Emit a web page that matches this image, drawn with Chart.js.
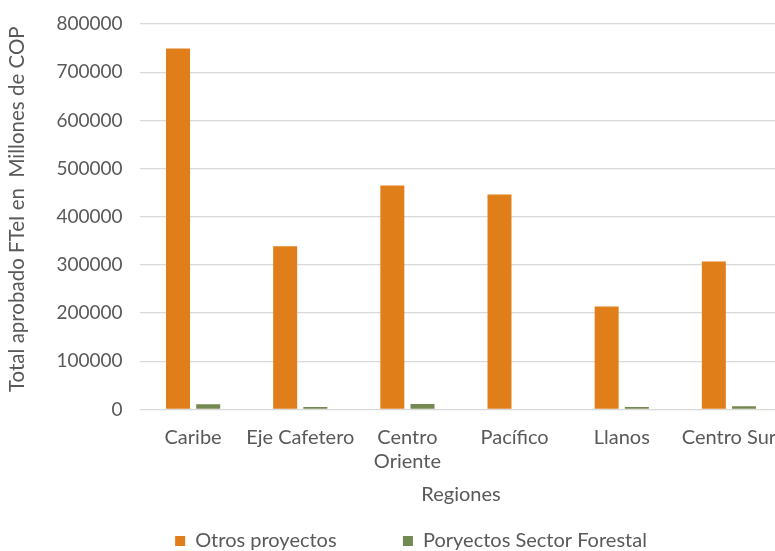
<!DOCTYPE html>
<html>
<head>
<meta charset="utf-8">
<script src="https://cdn.jsdelivr.net/npm/chart.js@4/dist/chart.umd.min.js"></script>
<style>
  html, body { margin: 0; padding: 0; background: #ffffff; overflow: hidden; }
  #wrap { width: 850px; height: 551px; }
</style>
</head>
<body>
<div id="wrap"><canvas id="chart" width="850" height="551"></canvas></div>
<script>
// Regions and approved totals (millions of COP)
const categories = ['Caribe', 'Eje Cafetero', ['Centro', 'Oriente'], 'Pacífico', 'Llanos', 'Centro Sur'];
const otrosProyectos = [749000, 339000, 465000, 446000, 214000, 307000];
const proyectosForestal = [11000, 5000, 11500, 1500, 5000, 7000];
const seriesNames = ['Otros proyectos', 'Poryectos Sector Forestal'];
const yTicks = [0, 100000, 200000, 300000, 400000, 500000, 600000, 700000, 800000];

const textColor = '#595959';
const fontFamily = 'Lato, "Open Sans", sans-serif';
const fontSize = 20;

// Extra spacing after each legend entry (trailing blanks widen the item)
const legendGap = '\u00A0'.repeat(11);

new Chart(document.getElementById('chart'), {
  type: 'bar',
  data: {
    labels: categories,
    datasets: [
      { label: seriesNames[0], data: otrosProyectos, backgroundColor: '#E07E1A', borderWidth: 0 },
      { label: seriesNames[1], data: proyectosForestal, backgroundColor: '#748952', borderWidth: 0 }
    ]
  },
  options: {
    responsive: false,
    animation: false,
    categoryPercentage: 0.563,
    barPercentage: 0.795,
    layout: { padding: { top: 24, right: 67.5, bottom: -10, left: 39.5 } },
    plugins: {
      legend: {
        position: 'bottom',
        labels: {
          boxWidth: 10,
          boxHeight: 10,
          padding: 10,
          color: textColor,
          font: { family: fontFamily, size: fontSize },
          generateLabels: (chart) => {
            const items = Chart.defaults.plugins.legend.labels.generateLabels(chart);
            items.forEach((it, i) => { if (i < items.length - 1) it.text = it.text + legendGap; });
            return items;
          }
        }
      },
      tooltip: { enabled: false }
    },
    scales: {
      x: {
        grid: { display: false, drawTicks: false },
        border: { display: false },
        ticks: {
          color: textColor,
          font: { family: fontFamily, size: fontSize },
          padding: 16.5,
          maxRotation: 0,
          autoSkip: false
        },
        title: {
          display: true,
          text: 'Regiones',
          color: textColor,
          font: { family: fontFamily, size: fontSize },
          padding: { top: -7.5, bottom: 14 }
        }
      },
      y: {
        min: 0,
        max: 800000,
        afterBuildTicks: (scale) => { scale.ticks = yTicks.map(v => ({ value: v })); },
        afterFit: (scale) => {
          scale.width = 100;
          scale.paddingTop = 0;
          scale.paddingBottom = 0;
        },
        grid: { color: '#D9D9D9', lineWidth: 1.3, drawTicks: false },
        border: { display: false },
        ticks: {
          color: textColor,
          font: { family: fontFamily, size: 19 },
          padding: 17,
          callback: (v) => String(v)
        },
        title: {
          display: true,
          text: '\u00A0\u00A0\u00A0Total aprobado FTeI en  Millones de COP',
          color: textColor,
          font: { family: fontFamily, size: 20.5 },
          padding: { top: -34.5, bottom: 0 }
        }
      }
    }
  }
});
</script>
</body>
</html>
